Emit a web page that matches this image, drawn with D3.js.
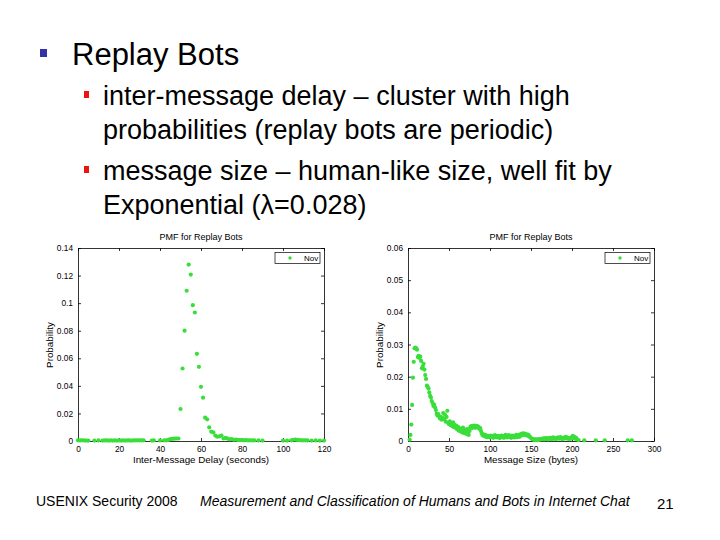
<!DOCTYPE html>
<html>
<head>
<meta charset="utf-8">
<script src="https://cdn.jsdelivr.net/npm/d3@7"></script>
<style>
  body { margin: 0; background: #fff; }
  svg text { font-family: "Liberation Sans", Arial, sans-serif; }
</style>
</head>
<body>
<script>
// inter-message delay (seconds) -> probability
const delayX = [0,1,2,3,4,5,8,10,12,13,14,15,16,17,18,19,20,21,22,23,24,25,26,27,28,29,30,31,32,
  36,37,40,42,43,44,45,46,47,48,49,
  50,51,52,53,54,55,56,57,58,59,60,61,62,63,64,65,66,67,68,69,70,
  71,72,73,74,75,76,77,78,79,80,81,82,83,84,85,86,88,90,
  100,102,104,105,106,107,108,109,110,111,112,114,116,118,120]
const delayP = [0.0005,0.0004,0.0005,0.0004,0.0003,0.0003,0.0003,0.0004,0.0003,0.0004,0.0004,0.0003,0.0004,0.0003,0.0004,0.0003,0.0004,0.0003,0.0004,0.0003,0.0004,0.0004,0.0003,0.0004,0.0005,0.0004,0.0005,0.0004,0.0005,
  0.0003,0.0004,0.0004,0.0005,0.0004,0.0008,0.0013,0.0016,0.0017,0.0018,0.0018,
  0.0232,0.0526,0.080,0.109,0.128,0.1207,0.0985,0.0932,0.0632,0.0538,0.0393,0.0314,0.0169,0.0157,0.0099,0.0068,0.0063,0.0039,0.0031,0.0034,0.0039,
  0.0018,0.0022,0.0017,0.0012,0.0014,0.0009,0.0011,0.0008,0.0006,0.0007,0.0005,0.0006,0.0004,0.0005,0.0004,0.0005,0.0004,0.0003,
  0.0003,0.0003,0.0005,0.0009,0.0011,0.0008,0.0006,0.0005,0.0005,0.0004,0.0005,0.0003,0.0004,0.0003,0.0003]

// message size (bytes) -> probability
const sizeX = [2,3,4,5,6,7,8,9,10,11,12,13,14,15,16,17,18,19,20,21,22,23,24,25,26,27,28,29,30,
  31,32,33,34,35,36,37,38,39,40,41,42,43,44,45,46,47,48,49,50,51,52,53,54,55,56,57,58,59,60,
  61,62,63,64,65,66,67,68,69,70,71,72,73,74,75,76,77,78,79,80,81,82,83,84,85,86,87,88,89,90,
  91,92,93,94,95,96,97,98,99,100,101,102,103,104,105,106,107,108,109,110,111,112,113,114,115,116,117,118,119,120,
  121,122,123,124,125,126,127,128,129,130,131,132,133,134,135,136,137,138,139,140,141,142,143,144,145,146,147,148,149,150,
  151,152,153,154,155,156,157,158,159,160,161,162,163,164,165,166,167,168,169,170,171,172,173,174,175,176,177,178,179,180,
  181,182,183,184,185,186,187,188,189,190,191,192,193,194,195,196,197,198,199,200,201,202,203,204,205,206,208,215,229,240,268,273]
const sizeP = [0.0004,0.0019,0.0051,0.0112,0.0197,0.0246,0.0288,0.0290,0.0288,0.0284,0.0261,0.0265,0.0258,0.0262,0.0249,0.0226,0.0231,0.0240,0.0222,0.0205,0.0193,0.0172,0.0168,0.0163,0.0151,0.0140,0.0135,0.0124,0.0118,
  0.0109,0.0112,0.0104,0.0096,0.0085,0.0079,0.0084,0.0077,0.0070,0.0075,0.0066,0.0072,0.0087,0.0068,0.0082,0.0060,0.0075,0.0094,0.0057,0.0052,0.0061,0.0049,0.0055,0.0046,0.0058,0.0043,0.0050,0.0041,0.0047,0.0036,
  0.0044,0.0032,0.0039,0.0030,0.0036,0.0027,0.0042,0.0025,0.0034,0.0029,0.0022,0.0037,0.0026,0.0019,0.0031,0.0043,0.0046,0.0040,0.0047,0.0044,0.0048,0.0041,0.0045,0.0047,0.0042,0.0044,0.0038,0.0040,0.0031,0.0024,
  0.0018,0.0021,0.0015,0.0019,0.0013,0.0017,0.0012,0.0016,0.0014,0.0011,0.0017,0.0013,0.0015,0.0010,0.0014,0.0018,0.0012,0.0015,0.0011,0.0016,0.0013,0.0009,0.0014,0.0017,0.0012,0.0015,0.0010,0.0016,0.0019,0.0013,
  0.0011,0.0015,0.0018,0.0012,0.0014,0.0010,0.0017,0.0013,0.0016,0.0011,0.0014,0.0019,0.0012,0.0015,0.0018,0.0013,0.0021,0.0017,0.0023,0.0020,0.0024,0.0019,0.0022,0.0018,0.0021,0.0016,0.0019,0.0014,0.0012,0.0009,
  0.0007,0.0006,0.0004,0.0005,0.0003,0.0005,0.0004,0.0003,0.0005,0.0004,0.0006,0.0005,0.0007,0.0006,0.0008,0.0005,0.0007,0.0009,0.0006,0.0008,0.0005,0.0009,0.0007,0.0010,0.0006,0.0008,0.0011,0.0007,0.0009,0.0006,
  0.0010,0.0008,0.0011,0.0007,0.0009,0.0012,0.0008,0.0006,0.0010,0.0007,0.0009,0.0013,0.0008,0.0011,0.0007,0.0009,0.0006,0.0010,0.0008,0.0012,0.0016,0.0009,0.0013,0.0007,0.0010,0.0005,0.0003,0.0002,0.0002,0.0002,0.0002,0.0002]

const delayTicksX = [0,20,40,60,80,100,120]
const delayTicksY = [0,0.02,0.04,0.06,0.08,0.1,0.12,0.14]
const sizeTicksX = [0,50,100,150,200,250,300]
const sizeTicksY = [0,0.01,0.02,0.03,0.04,0.05,0.06]

const green = "#3ade3a"

const svg = d3.select("body").append("svg")
    .attr("width", 720)
    .attr("height", 540)

// slide text
svg.append("rect").attr("x", 40).attr("y", 49).attr("width", 7).attr("height", 8).attr("fill", "#3333aa")
svg.append("text").attr("x", 72).attr("y", 65).attr("font-size", 31).text("Replay Bots")

const bullets = [
    ["inter-message delay – cluster with high", "probabilities (replay bots are periodic)"],
    ["message size – human-like size, well fit by", "Exponential (λ=0.028)"]
]
const bulletY = [97, 172]
bullets.forEach((lines, i) => {
    svg.append("rect").attr("x", 84).attr("y", bulletY[i] - 6).attr("width", 5).attr("height", 7).attr("fill", "#ee1111")
    lines.forEach((t, j) => {
        svg.append("text")
            .attr("x", 103)
            .attr("y", bulletY[i] + 8 + j * 34)
            .attr("font-size", 27)
            .text(t)
    })
})

// footer
svg.append("text").attr("x", 36).attr("y", 506).attr("font-size", 14).text("USENIX Security 2008")
svg.append("text").attr("x", 200).attr("y", 506).attr("font-size", 14).attr("font-style", "italic")
    .text("Measurement and Classification of Humans and Bots in Internet Chat")
svg.append("text").attr("x", 657).attr("y", 509).attr("font-size", 15).text("21")

function plot(opt) {
    const g = svg.append("g")
    const x = d3.scaleLinear().domain(opt.xDomain).range([opt.left, opt.right])
    const y = d3.scaleLinear().domain(opt.yDomain).range([441, 248])

    const fmt = d => String(d)
    const ax = [
        [d3.axisBottom(x).tickValues(opt.ticksX).tickFormat(fmt), 0, 441],
        [d3.axisTop(x).tickValues(opt.ticksX).tickFormat(""), 0, 248],
        [d3.axisLeft(y).tickValues(opt.ticksY).tickFormat(fmt), opt.left, 0],
        [d3.axisRight(y).tickValues(opt.ticksY).tickFormat(""), opt.right, 0]
    ]
    ax.forEach(a => {
        const sel = g.append("g")
            .attr("transform", `translate(${a[1]},${a[2]})`)
            .call(a[0].tickSizeInner(-3).tickSizeOuter(0).tickPadding(5))
        sel.selectAll("text").attr("font-size", 8.3).attr("font-family", "Liberation Sans, Arial, sans-serif").attr("fill", "#000")
        sel.select(".domain").attr("stroke", "#000").attr("stroke-width", 0.8)
        sel.selectAll(".tick line").attr("stroke", "#000").attr("stroke-width", 0.8)
    })

    g.selectAll("circle.pt")
        .data(opt.xs)
        .enter()
        .append("circle")
        .attr("class", "pt")
        .attr("cx", d => x(d))
        .attr("cy", (d, i) => y(opt.ps[i]))
        .attr("r", 2.1)
        .attr("fill", green)

    const mid = (opt.left + opt.right) / 2
    g.append("text").attr("x", mid).attr("y", 240).attr("text-anchor", "middle").attr("font-size", 9).text("PMF for Replay Bots")
    g.append("text").attr("x", mid).attr("y", 463).attr("text-anchor", "middle").attr("font-size", 9.8).text(opt.xLabel)
    g.append("text")
        .attr("transform", `translate(${opt.left - 25},345) rotate(-90)`)
        .attr("text-anchor", "middle").attr("font-size", 9.8).text("Probability")

    // legend
    g.append("rect").attr("x", opt.right - 49).attr("y", 252.5).attr("width", 45).attr("height", 11)
        .attr("fill", "#fff").attr("stroke", "#000").attr("stroke-width", 0.7)
    g.append("circle").attr("cx", opt.right - 34).attr("cy", 258).attr("r", 1.7).attr("fill", green)
    g.append("text").attr("x", opt.right - 20).attr("y", 261).attr("font-size", 8).text("Nov")
}

plot({
    left: 78, right: 324,
    xDomain: [0, 120], yDomain: [0, 0.14],
    ticksX: delayTicksX, ticksY: delayTicksY,
    xs: delayX, ps: delayP,
    xLabel: "Inter-Message Delay (seconds)"
})

plot({
    left: 408, right: 654,
    xDomain: [0, 300], yDomain: [0, 0.06],
    ticksX: sizeTicksX, ticksY: sizeTicksY,
    xs: sizeX, ps: sizeP,
    xLabel: "Message Size (bytes)"
})
</script>
</body>
</html>
